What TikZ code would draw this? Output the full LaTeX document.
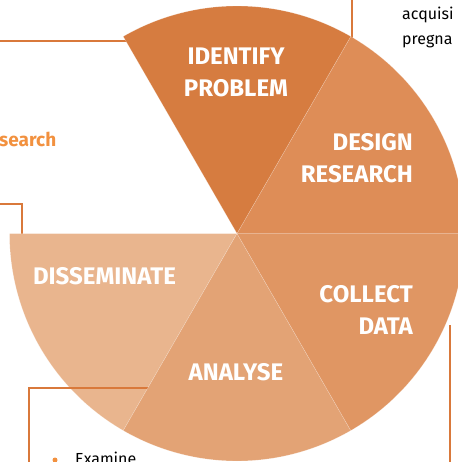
\documentclass[tikz,border=0pt]{standalone}
\usepackage{fontspec}
\setmainfont{Fira Sans}
\usetikzlibrary{positioning}
\definecolor{stepidentify}{HTML}{D67C40}
\definecolor{stepdesign}{HTML}{DE8D57}
\definecolor{stepcollect}{HTML}{E09663}
\definecolor{stepanalyse}{HTML}{E3A375}
\definecolor{stepdisseminate}{HTML}{E9B58E}
\definecolor{calloutline}{HTML}{D9793B}
\definecolor{calloutorange}{HTML}{F2913F}

\begin{document}
\begin{tikzpicture}[x=1pt, y=-1pt,
    sector/.style={draw=white, draw opacity=0.35, line width=0.4pt},
    steplabel/.style={font=\bfseries\fontsize{24}{32}\selectfont, text=white, inner sep=0pt},
    callout/.style={draw=calloutline, line width=1.8pt},
    bodytext/.style={font=\fontsize{16}{25}\selectfont, text=black, inner sep=0pt}]
    \useasboundingbox (0,0) rectangle (457,462);
    \coordinate (hub) at (237,233.5);

    % callout lines behind the wheel
    \coordinate (tl-a) at (-5,41);
    \coordinate (tl-b) at (130,41);
    \draw[callout] (tl-a) -- (tl-b);
    \coordinate (tr-a) at (352,-5);
    \coordinate (tr-b) at (352,45);
    \draw[callout] (tr-a) -- (tr-b);
    \coordinate (ml-a) at (-5,204);
    \coordinate (ml-b) at (22,204);
    \coordinate (ml-c) at (22,240);
    \draw[callout] (ml-a) -- (ml-b) -- (ml-c);
    \coordinate (br-a) at (450,325);
    \coordinate (br-b) at (450,470);
    \draw[callout] (br-a) -- (br-b);

    % wheel (y axis points down, so angles run clockwise)
    \fill[stepdisseminate, sector] (hub) -- ++(120:227.5) arc[start angle=120, end angle=180, radius=227.5] -- cycle;
    \coordinate (bl-a) at (29,470);
    \coordinate (bl-b) at (29,388);
    \coordinate (bl-c) at (150,388);
    \draw[callout] (bl-a) -- (bl-b) -- (bl-c);
    \fill[stepanalyse, sector] (hub) -- ++(60:227.5) arc[start angle=60, end angle=120, radius=227.5] -- cycle;
    \fill[stepcollect, sector] (hub) -- ++(0:227.5) arc[start angle=0, end angle=60, radius=227.5] -- cycle;
    \fill[stepdesign, sector] (hub) -- ++(-60:227.5) arc[start angle=-60, end angle=0, radius=227.5] -- cycle;
    \fill[stepidentify, sector] (hub) -- ++(-120:227.5) arc[start angle=-120, end angle=-60, radius=227.5] -- cycle;

    \node[steplabel, align=center] (identify) at (236,72) {IDENTIFY\\PROBLEM};
    \node[steplabel, align=right, anchor=east] (design) at (413,158) {DESIGN\\RESEARCH};
    \node[steplabel, align=right, anchor=east] (collect) at (413,310) {COLLECT\\DATA};
    \node[steplabel] (analyse) at (236,372) {ANALYSE};
    \node[steplabel] (disseminate) at (104.5,276) {DISSEMINATE};

    % cropped texts of the surrounding boxes
    \node[font=\bfseries\fontsize{19}{22}\selectfont, text=calloutorange, inner sep=0pt, anchor=base west] (research) at (-1,147) {search};
    \node[bodytext, anchor=base west] (acquire) at (402,20) {acquisi};
    \node[bodytext, anchor=base west] (pregnant) at (402,45) {pregna};
    \node[circle, fill=calloutorange, inner sep=0pt, minimum size=5pt] (bullet) at (55,460) {};
    \node[bodytext, anchor=base west] (examine) at (75,464) {Examine};
\end{tikzpicture}
\end{document}
